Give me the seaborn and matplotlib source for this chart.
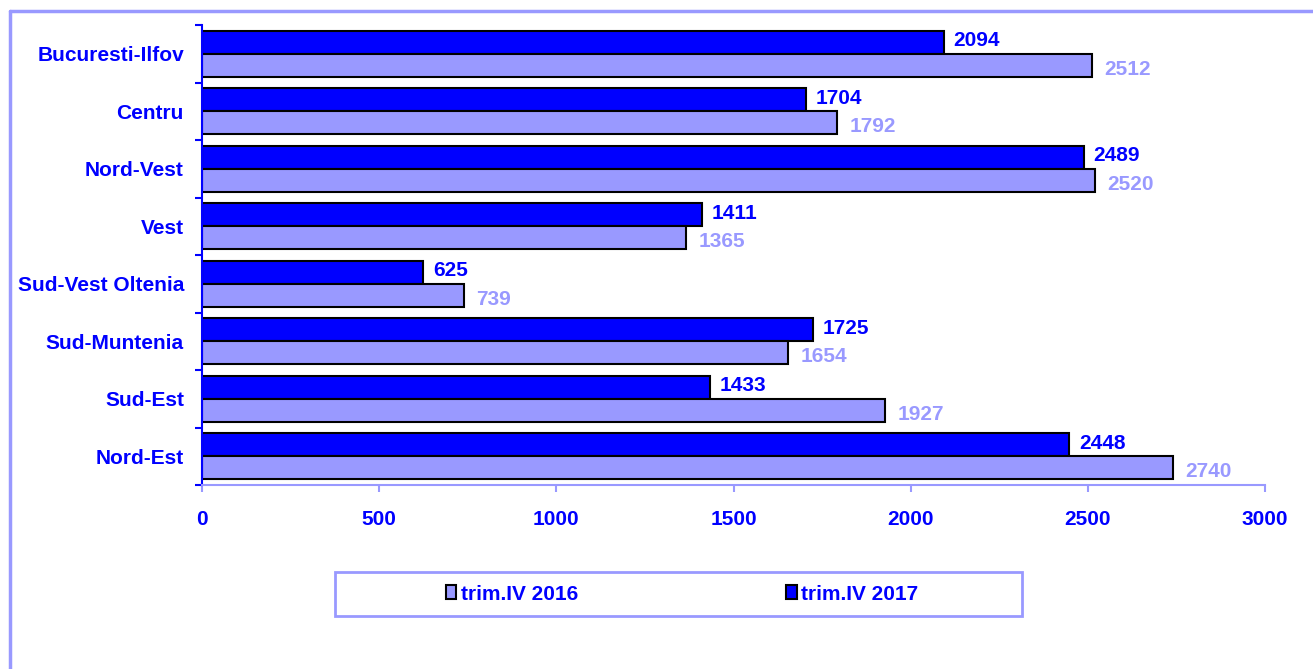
import numpy as np
import pandas as pd
import matplotlib
matplotlib.use("Agg")
import matplotlib.pyplot as plt
from matplotlib.patches import Patch, Rectangle
from matplotlib.lines import Line2D
import seaborn as sns

# data
regions = ["Bucuresti-Ilfov", "Centru", "Nord-Vest", "Vest",
           "Sud-Vest Oltenia", "Sud-Muntenia", "Sud-Est", "Nord-Est"]
trim2016 = [2512, 1792, 2520, 1365, 739, 1654, 1927, 2740]
trim2017 = [2094, 1704, 2489, 1411, 625, 1725, 1433, 2448]
periods = ["trim.IV 2016", "trim.IV 2017"]
xticks = [0, 500, 1000, 1500, 2000, 2500, 3000]

blue = "#0000FF"
lav = "#9999FF"

df = pd.DataFrame({
    "region": regions * 2,
    "value": trim2016 + trim2017,
    "period": [periods[0]] * len(regions) + [periods[1]] * len(regions),
})

sns.set_style("white")
plt.rcParams["font.family"] = ["Liberation Sans", "DejaVu Sans"]
plt.rcParams["font.weight"] = "bold"
fs = 15

fig = plt.figure(figsize=(13.13, 6.69), dpi=100)
ax = fig.add_axes([202/1313, 1-485/669, (1265-202)/1313, (485-25)/669])

# 2017 drawn on top of each group, 2016 underneath
ax = sns.barplot(data=df, y="region", x="value", hue="period",
                 hue_order=[periods[1], periods[0]], order=regions,
                 palette={periods[0]: lav, periods[1]: blue}, saturation=1,
                 orient="h", width=0.8, edgecolor="black", linewidth=1.5,
                 errorbar=None, legend=False, ax=ax)

# value labels
anns = ax.bar_label(ax.containers[0], labels=[str(v) for v in trim2017],
                    padding=7, color=blue, fontsize=fs, fontweight="bold")
anns2 = ax.bar_label(ax.containers[1], labels=[str(v) for v in trim2016],
                     padding=9, color=lav, fontsize=fs, fontweight="bold")
for a in anns:
    a.xyann = (7, 1)
for a in anns2:
    a.xyann = (9, -3)

ax.set_xlim(0, 3000)
ax.set_ylim(len(regions) - 0.5, -0.5)
ax.set_xticks(xticks)
ax.set_xticklabels([str(t) for t in xticks], color=blue, fontsize=fs, fontweight="bold")
ax.set_yticks(range(len(regions)))
ax.set_yticklabels(regions, color=blue, fontsize=fs, fontweight="bold")
ax.set_yticks(np.arange(-0.5, len(regions), 1), minor=True)
ax.tick_params(axis="y", which="major", left=True, length=0, pad=13)
ax.tick_params(axis="y", which="minor", left=True, length=5, width=1.5, color=blue, direction="out")
ax.tick_params(axis="x", which="major", bottom=True, length=5, width=1.5, color=lav,
               direction="out", pad=13)
ax.set_xlabel("")
ax.set_ylabel("")

for s in ["top", "right"]:
    ax.spines[s].set_visible(False)
ax.spines["left"].set_color(blue)
ax.spines["left"].set_linewidth(1.5)
ax.spines["bottom"].set_color(lav)
ax.spines["bottom"].set_linewidth(1.5)

# legend
handles = [Patch(facecolor=lav, edgecolor="black", linewidth=1.5, label=periods[0]),
           Patch(facecolor=blue, edgecolor="black", linewidth=1.5, label=periods[1])]
leg = fig.legend(handles=handles, loc="center", ncol=2, frameon=False,
                 bbox_to_anchor=(682/1313, 1-594/669),
                 handlelength=0.5, handleheight=0.65, handletextpad=0.2,
                 columnspacing=10.0, prop={"size": fs, "weight": "bold"})
for t in leg.get_texts():
    t.set_color(blue)

fig.patches.append(Rectangle((335/1313, 1-616/669), 687/1313, 44/669,
                             transform=fig.transFigure, fill=False,
                             edgecolor=lav, linewidth=2))

# outer border (left and top only are visible in the crop)
fig.lines.append(Line2D([10/1313, 10/1313], [0, 1-11/669], transform=fig.transFigure,
                        color=lav, linewidth=2.5))
fig.lines.append(Line2D([10/1313, 1], [1-11/669, 1-11/669], transform=fig.transFigure,
                        color=lav, linewidth=2.5))

fig.savefig("out.png", dpi=100)
